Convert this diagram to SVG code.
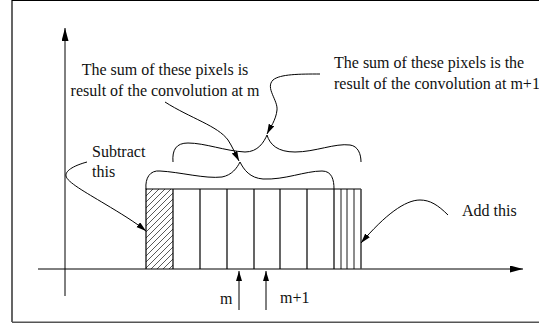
<svg xmlns="http://www.w3.org/2000/svg" width="539" height="324" viewBox="0 0 539 324">
<style>
.ln{fill:none;stroke:#000;stroke-width:1}
.bx{fill:none;stroke:#000;stroke-width:1.2}
.t{font-family:"Liberation Serif","Times New Roman",serif;font-size:16px;fill:#111}
</style>
<defs>
<marker id="ah" markerUnits="userSpaceOnUse" markerWidth="12" markerHeight="8" refX="10" refY="3" orient="auto">
<path d="M0,0 L10,3 L0,6 z" fill="#000"/>
</marker>
<marker id="ax" markerUnits="userSpaceOnUse" markerWidth="14" markerHeight="8" refX="13" refY="3.5" orient="auto">
<path d="M0,0 L13,3.5 L0,7 z" fill="#000"/>
</marker>
<pattern id="hatch" patternUnits="userSpaceOnUse" width="6" height="6">
<path d="M-1,1 L1,-1 M0,6 L6,0 M5,7 L7,5" stroke="#000" stroke-width="0.65"/>
</pattern>
</defs>
<rect width="539" height="324" fill="#fff"/>
<g id="frame">
<path d="M12,322 L12,0.5 L539,0.5" fill="none" stroke="#000" stroke-width="1.2"/>
<path d="M12,322.3 L539,322.3" fill="none" stroke="#555" stroke-width="1.6"/>
</g>
<g id="axes">
<path class="ln" d="M65,296 L65,28" marker-end="url(#ax)"/>
<path class="ln" d="M38,269 L523,269" marker-end="url(#ax)"/>
</g>
<g id="pixels">
<rect x="146" y="189" width="27" height="80" fill="url(#hatch)"/>
<path class="bx" d="M146,269 L146,189 L361,189"/>
<path class="bx" d="M173,189 V269 M200,189 V269 M227,189 V269 M254,189 V269 M280,189 V269 M307,189 V269 M334,189 V269"/>
<path fill="none" stroke="#000" stroke-width="0.9" d="M341,189 V269 M347,189 V269 M354,189 V269"/>
<path fill="none" stroke="#444" stroke-width="1.6" d="M361,189 V269"/>
</g>
<g id="braces">
<path class="ln" d="M146,189 C145,178 150,170 160,171 C180,172 205,179 222,177 C232,175 237,168 240,162 C244,170 250,178 263,179 C285,180 305,171 322,171 C332,171 334,180 334,189"/>
<path class="ln" d="M173,162 C172,150 176,143 188,143 C205,143 225,151 245,152 C258,152 264,142 267,135 C270,145 278,152 295,152 C315,152 335,143 350,145 C358,146 361,154 361,162"/>
</g>
<g id="connectors">
<path class="ln" d="M165,102 C190,118 218,126 228,140 C232,146 236,155 239,161" marker-end="url(#ah)"/>
<path class="ln" d="M320,74 C300,74 280,74 273,80 C265,88 278,100 277,110 C276,120 270,128 267,134" marker-end="url(#ah)"/>
<path class="ln" d="M87,162 C76,165 65,170 66,176 C67,182 85,192 105,204 C120,213 135,222 146,231" marker-end="url(#ah)"/>
<path class="ln" d="M448,215 C438,205 430,200 420,200 C405,200 385,215 361,243" marker-end="url(#ah)"/>
<path class="ln" d="M239,310 L239,271" marker-end="url(#ah)"/>
<path class="ln" d="M266,310 L266,271" marker-end="url(#ah)"/>
</g>
<g id="labels">
<text class="t" x="165" y="75" text-anchor="middle">The sum of these pixels is</text>
<text class="t" x="165" y="96" text-anchor="middle">result of the convolution at m</text>
<text class="t" x="334" y="68">The sum of these pixels is the</text>
<text class="t" x="334" y="89">result of the convolution at m+1</text>
<text class="t" x="92" y="157">Subtract</text>
<text class="t" x="92" y="177">this</text>
<text class="t" x="462" y="216">Add this</text>
<text class="t" x="220" y="304">m</text>
<text class="t" x="280" y="303">m+1</text>
</g>
</svg>
